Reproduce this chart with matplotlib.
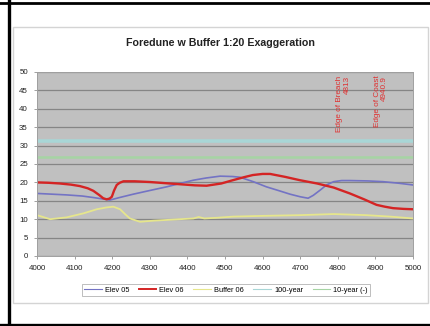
import matplotlib
matplotlib.use("Agg")
import matplotlib.pyplot as plt
from matplotlib.lines import Line2D
from matplotlib.patches import Rectangle

plt.rcParams['font.family'] = ['Liberation Sans', 'DejaVu Sans']

title = "Foredune w Buffer 1:20 Exaggeration"

elev05_x = [4000, 4040, 4079, 4120, 4149, 4175, 4194, 4220, 4256, 4300, 4345, 4380, 4416,
            4450, 4487, 4520, 4540, 4575, 4610, 4645, 4673, 4700, 4721, 4735, 4753, 4770,
            4789, 4810, 4832, 4880, 4920, 4960, 5000]
elev05_y = [17.0, 16.8, 16.6, 16.3, 15.9, 15.5, 15.2, 15.9, 16.8, 17.8, 18.8, 19.7, 20.6,
            21.2, 21.7, 21.6, 21.4, 20.2, 18.8, 17.7, 16.8, 16.1, 15.7, 16.5, 17.9, 19.3,
            20.2, 20.5, 20.5, 20.4, 20.2, 19.8, 19.3]

elev06_x = [4000, 4030, 4061, 4090, 4114, 4135, 4150, 4165, 4176, 4185, 4193, 4199, 4205,
            4212, 4220, 4230, 4260, 4301, 4340, 4380, 4420, 4451, 4490, 4521, 4550, 4574,
            4600, 4620, 4660, 4699, 4745, 4789, 4832, 4870, 4903, 4925, 4947, 4975, 5000]
elev06_y = [20.0, 19.9, 19.7, 19.4, 19.0, 18.4, 17.7, 16.6, 15.7, 15.4, 15.6, 16.1, 17.8,
            19.3, 19.9, 20.3, 20.3, 20.1, 19.8, 19.5, 19.2, 19.1, 19.7, 20.6, 21.4, 22.0,
            22.3, 22.3, 21.5, 20.6, 19.7, 18.6, 17.0, 15.4, 13.9, 13.4, 13.0, 12.8, 12.7]

buffer06_x = [4000, 4035, 4079, 4124, 4159, 4185, 4203, 4221, 4235, 4247, 4274, 4310, 4345,
              4380, 4416, 4430, 4445, 4480, 4521, 4600, 4699, 4789, 4876, 4940, 5000]
buffer06_y = [11.1, 10.0, 10.5, 11.6, 12.7, 13.2, 13.4, 12.7, 11.3, 10.2, 9.3, 9.6, 9.8,
              10.0, 10.2, 10.6, 10.2, 10.4, 10.7, 10.9, 11.1, 11.4, 11.1, 10.7, 10.2]

level_x = [4000, 5000]
year100 = [31.3, 31.3]
year10 = [27.0, 27.0]

annot_labels = ["Edge of Breach\n4813", "Edge of Coast\n4940.9"]
annot_x = [4815, 4915]

x_ticks = [4000, 4100, 4200, 4300, 4400, 4500, 4600, 4700, 4800, 4900, 5000]
y_ticks = [0, 5, 10, 15, 20, 25, 30, 35, 40, 45, 50]

legend_labels = ['Elev 05', 'Elev 06', 'Buffer 06', '100-year', '10-year (-)']
colors = {'Elev 05': '#7373c4', 'Elev 06': '#d42424', 'Buffer 06': '#e6e68c',
          '100-year': '#a8d6d6', '10-year (-)': '#a6d4a4'}

W, H = 430, 326
fig = plt.figure(figsize=(W / 100, H / 100), dpi=100)
fig.patch.set_facecolor('white')

# chart panel border
fig.add_artist(Rectangle((13 / W, 1 - 303 / H), (428 - 13) / W, (303 - 27) / H,
                         transform=fig.transFigure, facecolor='white',
                         edgecolor='#d4d4d4', linewidth=1.0, zorder=0))
# black frame (left, top, bottom)
fig.add_artist(Line2D([8.5 / W, 8.5 / W], [0, 1], transform=fig.transFigure,
                      color='black', linewidth=2.4))
fig.add_artist(Line2D([0, 1], [1 - 3 / H, 1 - 3 / H], transform=fig.transFigure,
                      color='black', linewidth=2.0))
fig.add_artist(Line2D([0, 1], [1 - 324.5 / H, 1 - 324.5 / H], transform=fig.transFigure,
                      color='black', linewidth=2.4))

ax = fig.add_axes([37 / W, 1 - 256 / H, (413 - 37) / W, (256 - 72) / H])
ax.set_facecolor('#c0c0c0')
ax.set_xlim(4000, 5000)
ax.set_ylim(0, 50)
ax.set_xticks(x_ticks)
ax.set_yticks(y_ticks)
ax.set_xticklabels([str(t) for t in x_ticks], fontsize=5.7, color='#222222')
ax.set_yticklabels([str(t) for t in y_ticks], fontsize=5.7, color='#222222')
ax.tick_params(axis='both', length=2.5, width=0.6, color='#909090', pad=4)
ax.grid(axis='y', color='#858585', linewidth=0.9)
ax.set_axisbelow(True)
for s in ax.spines.values():
    s.set_color('#a0a0a0')
    s.set_linewidth(0.7)

ax.plot(level_x, year100, color=colors['100-year'], linewidth=2.6)
ax.plot(level_x, year10, color=colors['10-year (-)'], linewidth=1.8)
ax.plot(buffer06_x, buffer06_y, color=colors['Buffer 06'], linewidth=1.3)
ax.plot(elev05_x, elev05_y, color=colors['Elev 05'], linewidth=1.2)
ax.plot(elev06_x, elev06_y, color=colors['Elev 06'], linewidth=1.7)

for lab, xv in zip(annot_labels, annot_x):
    ax.text(xv, 49, lab, rotation=90, ha='center', va='top', multialignment='right',
            fontsize=5.9, color='#e03030', linespacing=1.0)

fig.text(220 / W, 1 - 43 / H, title, ha='center', va='center', fontsize=7.7,
         fontweight='bold', color='#222222')

handles = [Line2D([], [], color=colors[k], linewidth=(1.4 if k == 'Elev 06' else 0.8))
           for k in legend_labels]
leg = fig.legend(handles, legend_labels, loc='center',
                 bbox_to_anchor=(226 / W, 1 - 290 / H), ncol=5, fontsize=5.3,
                 frameon=True, fancybox=False, handlelength=2.4, handletextpad=0.4,
                 columnspacing=1.3, borderpad=0.35)
leg.get_frame().set_edgecolor('#a0a0a0')
leg.get_frame().set_linewidth(0.6)

fig.savefig('out.png', dpi=100)
